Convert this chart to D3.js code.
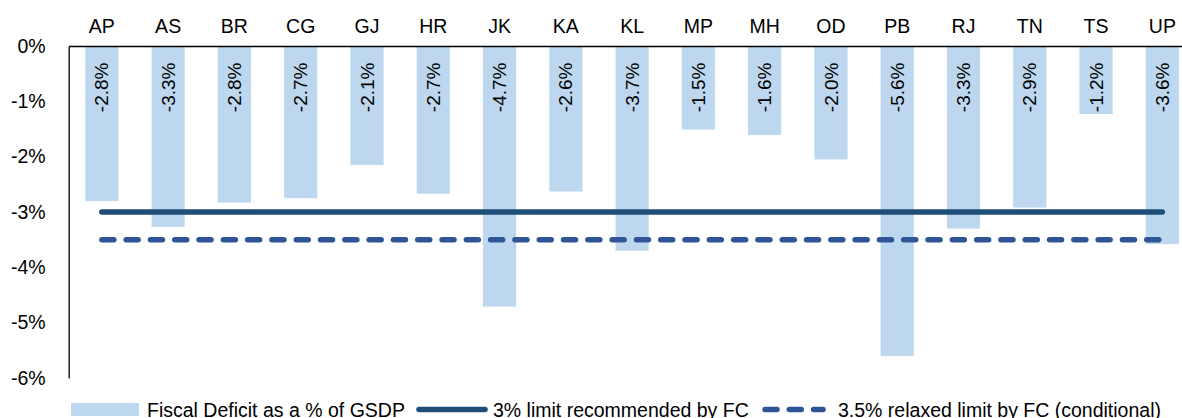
<!DOCTYPE html>
<html>
<head>
<meta charset="utf-8">
<script src="https://cdn.jsdelivr.net/npm/d3@7"></script>
<style>
  html, body { margin: 0; padding: 0; background: #fff; }
  svg { display: block; font-family: "Liberation Sans", Arial, sans-serif; }
</style>
</head>
<body>
<svg id="chart" width="1182" height="418"></svg>
<script>
// ---- Data ----
const states = ["AP","AS","BR","CG","GJ","HR","JK","KA","KL","MP","MH","OD","PB","RJ","TN","TS","UP"];
const fiscalDeficit = [-2.80,-3.27,-2.83,-2.75,-2.15,-2.67,-4.71,-2.63,-3.70,-1.51,-1.61,-2.05,-5.60,-3.30,-2.92,-1.23,-3.58];
const deficitLabels = ["-2.8%","-3.3%","-2.8%","-2.7%","-2.1%","-2.7%","-4.7%","-2.6%","-3.7%","-1.5%","-1.6%","-2.0%","-5.6%","-3.3%","-2.9%","-1.2%","-3.6%"];
const fcLimit = -3.0;
const fcRelaxedLimit = -3.5;
const yTicks = [0,-1,-2,-3,-4,-5,-6];
const yTickLabels = ["0%","-1%","-2%","-3%","-4%","-5%","-6%"];
const legendLabels = ["Fiscal Deficit as a % of GSDP","3% limit recommended by FC","3.5% relaxed limit by FC (conditional)"];

// ---- Colors ----
const barColor = "#bdd7ee";
const solidColor = "#1f4e79";
const dashColor = "#2f5597";

const svg = d3.select("#chart");
const mLeft = 68.7, mRight = 1195.5, mTop = 46, mBottom = 378;

const x = d3.scaleBand().domain(states).range([mLeft, mRight]).paddingInner(0.5).paddingOuter(0.25);
const y = d3.scaleLinear().domain([0, -6]).range([mTop, mBottom]);

// Bars
svg.append("g").selectAll("rect").data(states).join("rect")
  .attr("x", d => x(d))
  .attr("y", y(0))
  .attr("width", x.bandwidth())
  .attr("height", (d, i) => y(fiscalDeficit[i]) - y(0))
  .attr("fill", barColor);

// Data labels (rotated)
svg.append("g").selectAll("text").data(states).join("text")
  .attr("transform", d => `translate(${x(d) + x.bandwidth() / 2},${y(0) + 16.5}) rotate(-90)`)
  .attr("text-anchor", "end")
  .attr("dy", "0.35em")
  .attr("font-size", 19)
  .attr("fill", "#000")
  .text((d, i) => deficitLabels[i]);

// Limit lines
const first = x(states[0]) + x.bandwidth() / 2;
const last = x(states[states.length - 1]) + x.bandwidth() / 2;
svg.append("line")
  .attr("x1", first).attr("x2", last)
  .attr("y1", y(fcLimit)).attr("y2", y(fcLimit))
  .attr("stroke", solidColor).attr("stroke-width", 5.5).attr("stroke-linecap", "round");
svg.append("line")
  .attr("x1", first).attr("x2", last)
  .attr("y1", y(fcRelaxedLimit)).attr("y2", y(fcRelaxedLimit))
  .attr("stroke", dashColor).attr("stroke-width", 5.5).attr("stroke-linecap", "round")
  .attr("stroke-dasharray", "12,12.3");

// Axes
const yAxis = d3.axisLeft(y).tickValues(yTicks).tickSize(0).tickPadding(23)
  .tickFormat((d, i) => yTickLabels[i]);
const gy = svg.append("g").attr("transform", `translate(${mLeft},0)`).call(yAxis);
gy.select(".domain").attr("stroke", "#000").attr("stroke-width", 1.3);
gy.selectAll("text").attr("font-size", 19.5).attr("fill", "#000").attr("font-family", "Liberation Sans, Arial, sans-serif");

const xAxis = d3.axisTop(x).tickSize(0).tickPadding(13);
const gx = svg.append("g").attr("transform", `translate(0,${mTop})`).call(xAxis);
gx.select(".domain").attr("stroke", "#000").attr("stroke-width", 1.3);
gx.selectAll("text").attr("font-size", 19.5).attr("fill", "#000").attr("font-family", "Liberation Sans, Arial, sans-serif");

// Legend
const lg = svg.append("g").attr("font-size", 19.5).attr("fill", "#000");
const ly = 409.5, lb = 417;
lg.append("rect").attr("x", 71).attr("y", 403).attr("width", 68).attr("height", 13).attr("fill", barColor);
lg.append("text").attr("x", 147).attr("y", lb).text(legendLabels[0]);
lg.append("line").attr("x1", 419).attr("x2", 485).attr("y1", ly).attr("y2", ly)
  .attr("stroke", solidColor).attr("stroke-width", 5.5).attr("stroke-linecap", "round");
lg.append("text").attr("x", 493).attr("y", lb).text(legendLabels[1]);
lg.append("line").attr("x1", 765).attr("x2", 823).attr("y1", ly).attr("y2", ly)
  .attr("stroke", dashColor).attr("stroke-width", 5.5).attr("stroke-linecap", "round")
  .attr("stroke-dasharray", "12,12.3");
lg.append("text").attr("x", 838).attr("y", lb).text(legendLabels[2]);
</script>
</body>
</html>
